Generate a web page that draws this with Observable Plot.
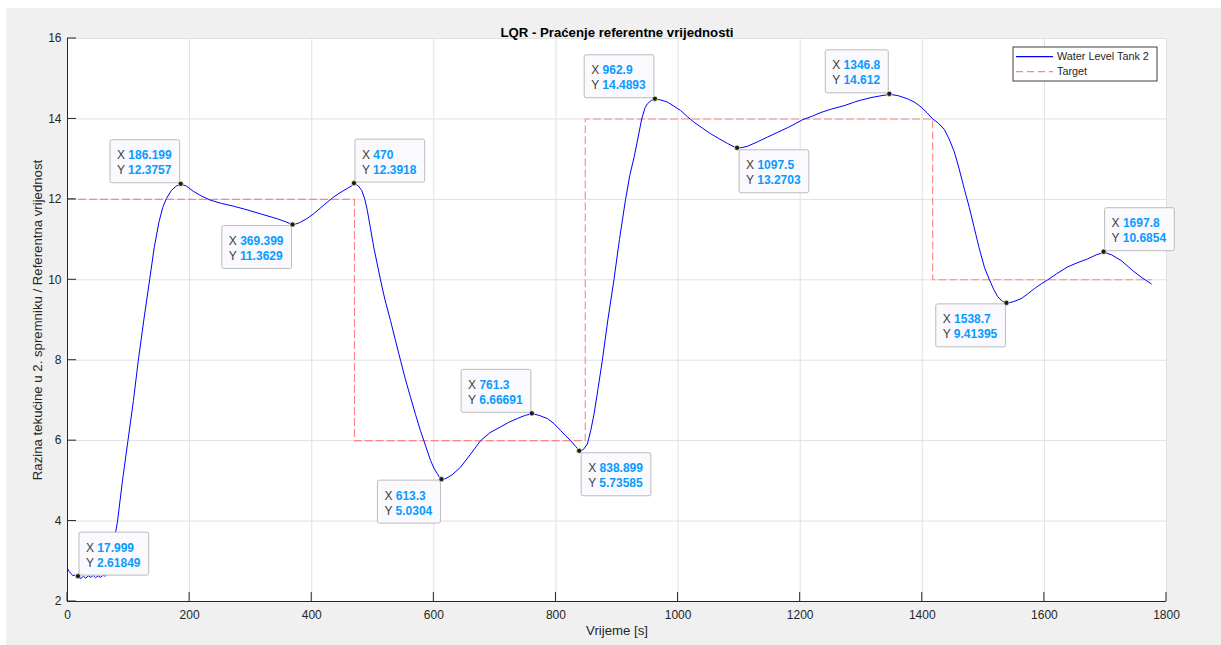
<!DOCTYPE html>
<html>
<head>
<meta charset="utf-8">
<script src="https://cdn.jsdelivr.net/npm/d3@7"></script>
<script src="https://cdn.jsdelivr.net/npm/@observablehq/plot@0.6"></script>
<style>
  html, body { margin: 0; padding: 0; background: #ffffff; }
  body { font-family: "Liberation Sans", Arial, sans-serif; }
  #fig { position: absolute; left: 6px; top: 8px; width: 1215px; height: 637px; background: #f0f0f0; }
  #wrap { position: absolute; left: 0; top: 0; width: 1221px; height: 645px; }
</style>
</head>
<body>
<div id="fig"></div>
<div id="wrap"></div>
<script>
// ---------------- DATA ----------------
const titleText = "LQR - Praćenje referentne vrijednosti";
const xLabelText = "Vrijeme [s]";
const yLabelText = "Razina tekućine u 2. spremniku / Referentna vrijednost";
const seriesNames = ["Water Level Tank 2", "Target"];

const xTicks = [0, 200, 400, 600, 800, 1000, 1200, 1400, 1600, 1800];
const yTicks = [2, 4, 6, 8, 10, 12, 14, 16];

// Water level (time [s], level)
const levelTime = [
  0, 3, 6, 9, 12, 15, 18, 22, 26, 30, 34, 38, 42, 46, 50, 54, 58, 62, 66, 70, 74, 78, 82,
  90, 99, 108, 116, 125, 134.5, 142, 150, 156, 162, 170, 178, 186.2,
  195, 206, 220, 234, 252, 272, 294, 316, 343, 358, 369.4,
  380, 392, 403, 420, 436, 448, 458, 465, 470,
  476, 482, 487, 491, 496, 501.6, 512.6, 520, 529, 537, 545.4, 553, 561.8, 570, 578, 583.6,
  589, 594.6, 600, 605.6, 610, 613.3,
  620, 630, 643.8, 660, 676.6, 692, 709, 722, 736.7, 750, 761.3,
  772, 786, 797, 807.7, 816, 824, 832, 838.9,
  845, 851.5, 857, 862.5, 869, 876, 885, 895, 904, 914, 921, 928, 934, 940.5, 946, 950, 956, 962.9,
  972, 982.6, 993, 1004, 1015, 1026, 1040, 1053.6, 1067, 1081, 1090, 1097.5,
  1105, 1113.8, 1130, 1146.6, 1162, 1179, 1192, 1204, 1220, 1234, 1252, 1272, 1289, 1300, 1316, 1330, 1346.8,
  1360, 1376, 1388, 1397.8, 1408, 1417, 1426, 1436, 1444, 1452.5, 1460, 1469, 1477, 1485, 1493, 1502, 1510,
  1517, 1523.6, 1531, 1538.7,
  1550, 1561.8, 1572, 1583.6, 1595, 1605.6, 1620, 1638, 1655, 1671, 1685, 1697.8,
  1710, 1725.7, 1737, 1747.7, 1760, 1775
];
const levelValue = [
  2.82, 2.74, 2.69, 2.64, 2.66, 2.6, 2.62, 2.57, 2.63, 2.58, 2.64, 2.6, 2.65, 2.59, 2.64, 2.6, 2.65, 2.63, 2.7, 2.88, 3.25, 3.65, 4.0,
  5.0, 6.0, 7.0, 8.0, 9.0, 10.0, 10.8, 11.45, 11.8, 12.02, 12.22, 12.33, 12.3757,
  12.33, 12.2, 12.08, 11.98, 11.9, 11.83, 11.74, 11.64, 11.52, 11.44, 11.3629,
  11.42, 11.52, 11.64, 11.86, 12.06, 12.18, 12.27, 12.33, 12.3918,
  12.34, 12.22, 12.0, 11.73, 11.3, 10.81, 10.0, 9.5, 8.99, 8.5, 8.0, 7.55, 7.08, 6.65, 6.25, 6.0,
  5.76, 5.51, 5.32, 5.18, 5.07, 5.0304,
  5.06, 5.15, 5.34, 5.66, 6.0, 6.2, 6.34, 6.45, 6.55, 6.63, 6.66691,
  6.63, 6.55, 6.42, 6.25, 6.12, 6.0, 5.86, 5.73585,
  5.78, 5.92, 6.25, 6.67, 7.3, 8.0, 9.0, 10.0, 11.0, 12.0, 12.6, 13.05, 13.5, 14.0, 14.28, 14.38, 14.46, 14.4893,
  14.47, 14.42, 14.32, 14.21, 14.06, 13.92, 13.77, 13.63, 13.51, 13.39, 13.32, 13.2703,
  13.29, 13.32, 13.43, 13.55, 13.66, 13.78, 13.88, 13.98, 14.07, 14.16, 14.25, 14.33, 14.42, 14.47, 14.53, 14.57, 14.612,
  14.58, 14.5, 14.41, 14.3, 14.15, 14.0, 13.9, 13.74, 13.5, 13.18, 12.78, 12.25, 11.8, 11.3, 10.8, 10.3, 10.0,
  9.76, 9.58, 9.47, 9.41395,
  9.46, 9.53, 9.64, 9.78, 9.9, 10.0, 10.15, 10.32, 10.43, 10.52, 10.62, 10.6854,
  10.62, 10.48, 10.33, 10.19, 10.05, 9.9
];

// Target (step changes: time at which each value starts)
const targetTime = [0, 470, 848, 1417, 1775];
const targetValue = [12, 6, 14, 10, 10];

// Data tips
const tipX = [17.999, 186.199, 369.399, 470, 613.3, 761.3, 838.899, 962.9, 1097.5, 1346.8, 1538.7, 1697.8];
const tipY = [2.61849, 12.3757, 11.3629, 12.3918, 5.0304, 6.66691, 5.73585, 14.4893, 13.2703, 14.612, 9.41395, 10.6854];
const tipSide = ["ne", "nw", "sw", "ne", "sw", "nw", "se", "nw", "se", "nw", "sw", "ne"];

// ---------------- BUILD ----------------
const level = levelTime.map((t, i) => ({t, v: levelValue[i]}));
const target = targetTime.map((t, i) => ({t, v: targetValue[i]}));
const tips = tipX.map((x, i) => ({x, y: tipY[i], side: tipSide[i]}));

const FONT = "'Liberation Sans', Arial, sans-serif";
const AX = "#262626";
const BLUE = "#0000ff";
const RED = "#ff8585";
const DASH = "7,4";

function inwardTicks(index, scales) {
  const {x, y} = scales;
  const g = d3.create("svg:g").attr("stroke", AX).attr("stroke-width", 1);
  xTicks.forEach(t => g.append("line")
    .attr("x1", x(t)).attr("x2", x(t)).attr("y1", y(yTicks[0])).attr("y2", y(yTicks[0]) - 9));
  yTicks.forEach(t => g.append("line")
    .attr("x1", x(xTicks[0])).attr("x2", x(xTicks[0]) + 9).attr("y1", y(t)).attr("y2", y(t)));
  return g.node();
}

const measureCtx = document.createElement("canvas").getContext("2d");
function textW(s, bold) {
  measureCtx.font = (bold ? "bold " : "") + "12px " + FONT;
  return measureCtx.measureText(s).width;
}

function dataTips(index, scales) {
  const {x, y} = scales;
  const g = d3.create("svg:g").attr("font-family", FONT).attr("font-size", 12).attr("text-anchor", "start");
  tips.forEach(d => {
    const px = x(d.x), py = y(d.y);
    const lx = String(d.x), ly = String(d.y);
    const w = Math.max(textW("X ", false) + textW(lx, true), textW("Y ", false) + textW(ly, true)) + 15;
    const h = 43;
    let left, top;
    if (d.side === "ne") { left = px + 1; top = py - 1 - h; }
    else if (d.side === "nw") { left = px - 1 - w; top = py - 1 - h; }
    else if (d.side === "se") { left = px + 2; top = py + 2; }
    else { left = px - 1 - w; top = py + 1; }
    g.append("rect").attr("x", left).attr("y", top).attr("width", w).attr("height", h)
      .attr("rx", 2).attr("fill", "#f9f9fe").attr("stroke", "#bcbcbc").attr("stroke-width", 1);
    const t1 = g.append("text").attr("x", left + 7).attr("y", top + 19.5);
    t1.append("tspan").attr("fill", "#404040").text("X ");
    t1.append("tspan").attr("fill", "#0a9bff").attr("font-weight", "bold").text(lx);
    const t2 = g.append("text").attr("x", left + 7).attr("y", top + 34.5);
    t2.append("tspan").attr("fill", "#404040").text("Y ");
    t2.append("tspan").attr("fill", "#0a9bff").attr("font-weight", "bold").text(ly);
    g.append("circle").attr("cx", px).attr("cy", py).attr("r", 2.6)
      .attr("fill", "#1c1c1c").attr("stroke", "#f4f0b0").attr("stroke-width", 0.8);
  });
  return g.node();
}

function legend(index, scales, values, dims) {
  const right = dims.width - dims.marginRight - 9;
  const w = 144, h = 34;
  const left = right - w, top = dims.marginTop + 9;
  const g = d3.create("svg:g").attr("font-family", FONT).attr("font-size", 10.8).attr("text-anchor", "start");
  g.append("rect").attr("x", left).attr("y", top).attr("width", w).attr("height", h)
    .attr("fill", "white").attr("stroke", "#404040").attr("stroke-width", 1);
  const rows = [{c: BLUE, dash: null}, {c: RED, dash: DASH}];
  rows.forEach((r, i) => {
    const cy = top + 9.7 + i * 15;
    const ln = g.append("line").attr("x1", left + 3).attr("x2", left + 40).attr("y1", cy).attr("y2", cy)
      .attr("stroke", r.c).attr("stroke-width", 1.2);
    if (r.dash) ln.attr("stroke-dasharray", r.dash);
    g.append("text").attr("x", left + 44).attr("y", cy).attr("dy", "0.35em")
      .attr("fill", AX).text(seriesNames[i]);
  });
  return g.node();
}

const plot = Plot.plot({
  width: 1221,
  height: 645,
  marginLeft: 67,
  marginRight: 55,
  marginTop: 38,
  marginBottom: 44,
  style: {background: "transparent", fontFamily: FONT, fontSize: "12px", color: AX, overflow: "visible"},
  x: {domain: [0, 1800]},
  y: {domain: [2, 16]},
  marks: [
    Plot.frame({fill: "white", stroke: "none"}),
    Plot.ruleX(xTicks, {stroke: "#e0e0e0"}),
    Plot.ruleY(yTicks, {stroke: "#e0e0e0"}),
    Plot.line(target, {x: "t", y: "v", curve: "step-after", stroke: RED, strokeWidth: 1.1, strokeDasharray: DASH}),
    Plot.line(level, {x: "t", y: "v", stroke: BLUE, strokeWidth: 1, curve: "linear"}),
    Plot.ruleX([xTicks[0]], {stroke: AX, strokeWidth: 1}),
    Plot.ruleY([yTicks[0]], {stroke: AX, strokeWidth: 1}),
    Plot.axisX({ticks: xTicks, tickSize: 0, tickPadding: 9, label: null, fontSize: 12, tickFormat: d => String(d)}),
    Plot.axisY({ticks: yTicks, tickSize: 0, tickPadding: 6, label: null, fontSize: 12, tickFormat: d => String(d)}),
    inwardTicks,
    Plot.text([xLabelText], {frameAnchor: "bottom", dy: 33, fontSize: 13.2, fill: AX, textAnchor: "middle"}),
    Plot.text([yLabelText], {frameAnchor: "left", dx: -30, rotate: -90, fontSize: 13.2, fill: AX, textAnchor: "middle"}),
    Plot.text([titleText], {frameAnchor: "top", dy: -11, fontSize: 13.2, fontWeight: "bold", fill: "#000", textAnchor: "middle"}),
    dataTips,
    legend
  ]
});
document.getElementById("wrap").appendChild(plot);
</script>
</body>
</html>
